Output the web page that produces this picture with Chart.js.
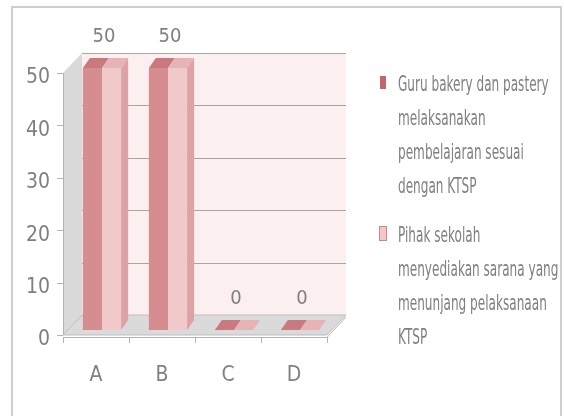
<!DOCTYPE html>
<html>
<head>
<meta charset="utf-8">
<script src="https://cdn.jsdelivr.net/npm/chart.js@4.4.1/dist/chart.umd.min.js"></script>
<style>
    body { margin: 0; background: #fff; }
    #wrap { position: relative; width: 564px; height: 416px; overflow: hidden; }
    #frame { position: absolute; left: 11px; top: 6px; width: 547px; height: 420px; border: 2px solid #cfcfcf; }
    #chart { position: absolute; left: 0; top: 0; }
    #legend { position: absolute; left: 380px; top: 66px; font-family: "Liberation Sans Narrow", "DejaVu Sans Condensed", "Arial Narrow", sans-serif; font-size: 17px; color: #808080; }
    .item { position: relative; padding-left: 18px; margin-bottom: 15px; }
    .line { height: 34px; line-height: 34px; white-space: nowrap; }
    .line span { display: inline-block; transform: scale(0.79, 1.25); transform-origin: left center; }
    .mark { position: absolute; left: 0; top: 10px; width: 6px; height: 13px; }
</style>
</head>
<body>
<div id="wrap">
    <div id="frame"></div>
    <canvas id="chart" width="564" height="416"></canvas>
    <div id="legend"></div>
</div>
<script>
const categories = ['A', 'B', 'C', 'D'];
const guruValues = [50, 50, 0, 0];
const sekolahValues = [50, 50, 0, 0];
const yTicks = [0, 10, 20, 30, 40, 50];
const seriesLines = [
    ['Guru bakery dan pastery', 'melaksanakan', 'pembelajaran sesuai', 'dengan KTSP'],
    ['Pihak sekolah', 'menyediakan sarana yang', 'menunjang pelaksanaan', 'KTSP']
];

const fontFamily = '"Liberation Sans Narrow", "DejaVu Sans Condensed", "Arial Narrow", sans-serif';
const textColor = '#808080';
const frontColors = ['#d68d90', '#f1c9cb'];
const capColors = ['#c97a7e', '#e6b3b6'];
const sideColor = '#dca2a5';
const markColors = ['#c2666b', '#f4c6c8'];

// ===== legend =====
const legend = document.getElementById('legend');
seriesLines.forEach((lines, i) => {
    const item = document.createElement('div');
    item.className = 'item';
    const mark = document.createElement('div');
    mark.className = 'mark';
    mark.style.background = markColors[i];
    if (i === 1) mark.style.outline = '1px solid #c98a8c';
    item.appendChild(mark);
    lines.forEach(t => {
        const l = document.createElement('div');
        l.className = 'line';
        const s = document.createElement('span');
        s.textContent = t;
        l.appendChild(s);
        item.appendChild(l);
    });
    legend.appendChild(item);
});

function poly(ctx, pts, fill, stroke) {
    ctx.beginPath();
    ctx.moveTo(pts[0][0], pts[0][1]);
    pts.slice(1).forEach(p => ctx.lineTo(p[0], p[1]));
    ctx.closePath();
    if (fill) { ctx.fillStyle = fill; ctx.fill(); }
    if (stroke) { ctx.strokeStyle = stroke; ctx.lineWidth = 1; ctx.stroke(); }
}

// ===== 3D walls, floor, caps =====
const box3d = {
    id: 'box3d',
    beforeDatasetsDraw(chart) {
        const { ctx, chartArea: ca, scales: { x, y } } = chart;
        const y0 = y.getPixelForValue(0);
        const yMax = y.getPixelForValue(yTicks[yTicks.length - 1]);
        const fx = ca.left - 6, bx = ca.left + 13;
        const rf = ca.right - 6, rb = ca.right + 13;
        ctx.save();
        ctx.fillStyle = '#fbeff0';
        ctx.fillRect(bx, yMax - 15, rb - bx, y0 - yMax);
        poly(ctx, [[fx, yMax + 5], [bx, yMax - 15], [bx, y0 - 15], [fx, y0 + 5]], '#d9d9d9');
        poly(ctx, [[fx, y0 + 5], [bx, y0 - 15], [rb, y0 - 15], [rf, y0 + 5]], '#dadada', '#bdbdbd');
        ctx.strokeStyle = '#a6a6a6';
        ctx.lineWidth = 1;
        yTicks.slice(1).forEach(v => {
            const py = Math.round(y.getPixelForValue(v) - 15) + 0.5;
            ctx.beginPath(); ctx.moveTo(bx, py); ctx.lineTo(rb, py); ctx.stroke();
        });
        // front axis
        ctx.strokeStyle = '#b3b3b3';
        ctx.beginPath(); ctx.moveTo(fx + 0.5, yMax + 5); ctx.lineTo(fx + 0.5, y0 + 5); ctx.stroke();
        yTicks.forEach(v => {
            const py = Math.round(y.getPixelForValue(v) + 5) + 0.5;
            ctx.beginPath(); ctx.moveTo(fx - 6, py); ctx.lineTo(fx, py); ctx.stroke();
        });
        ctx.beginPath(); ctx.moveTo(fx, y0 + 7.5); ctx.lineTo(rf, y0 + 7.5); ctx.lineTo(rb, y0 - 13); ctx.stroke();
        const step = (ca.right - ca.left) / categories.length;
        for (let k = 0; k <= categories.length; k++) {
            const px = Math.round(fx + k * step) + 0.5;
            ctx.beginPath(); ctx.moveTo(px, y0 + 7); ctx.lineTo(px, y0 + 13); ctx.stroke();
        }
        ctx.restore();
    },
    afterDatasetsDraw(chart) {
        const { ctx, scales: { y } } = chart;
        const dx = 7, dy = -10;
        ctx.save();
        chart.data.datasets.forEach((ds, d) => {
            chart.getDatasetMeta(d).data.forEach(bar => {
                const l = bar.x - bar.width / 2, r = bar.x + bar.width / 2;
                poly(ctx, [[l, bar.y], [l + dx, bar.y + dy], [r + dx, bar.y + dy], [r, bar.y]], capColors[d]);
                if (d === chart.data.datasets.length - 1 && bar.base > bar.y) {
                    poly(ctx, [[r, bar.y], [r + dx, bar.y + dy], [r + dx, bar.base + dy], [r, bar.base]], sideColor);
                }
            });
        });
        // data labels
        const m0 = chart.getDatasetMeta(0).data, m1 = chart.getDatasetMeta(1).data;
        ctx.fillStyle = textColor;
        ctx.font = '20px ' + fontFamily;
        ctx.textAlign = 'center';
        ctx.textBaseline = 'middle';
        categories.forEach((c, i) => {
            const cx = (m0[i].x + m1[i].x) / 2 + 2;
            ctx.fillText(String(guruValues[i]), cx, y.getPixelForValue(guruValues[i]) - 31);
        });
        ctx.restore();
    }
};

new Chart(document.getElementById('chart'), {
    type: 'bar',
    data: {
        labels: categories,
        datasets: [
            { label: seriesLines[0].join(' '), data: guruValues, backgroundColor: frontColors[0] },
            { label: seriesLines[1].join(' '), data: sekolahValues, backgroundColor: frontColors[1] }
        ]
    },
    options: {
        responsive: false,
        animation: false,
        devicePixelRatio: 1,
        layout: { padding: { left: 0, right: 231, top: 68, bottom: 0 } },
        datasets: { bar: { categoryPercentage: 0.58, barPercentage: 1 } },
        plugins: { legend: { display: false }, tooltip: { enabled: false } },
        scales: {
            x: {
                grid: { display: false, drawTicks: false },
                border: { display: false },
                ticks: { color: textColor, font: { family: fontFamily, size: 21 }, padding: 33, labelOffset: -6 },
                afterFit: s => { s.height = 86; }
            },
            y: {
                min: 0, max: 50,
                grid: { display: false, drawTicks: false },
                border: { display: false },
                ticks: { stepSize: 10, color: textColor, font: { family: fontFamily, size: 21 }, padding: 19, labelOffset: 10 },
                afterFit: s => { s.width = 69; }
            }
        }
    },
    plugins: [box3d]
});
</script>
</body>
</html>
